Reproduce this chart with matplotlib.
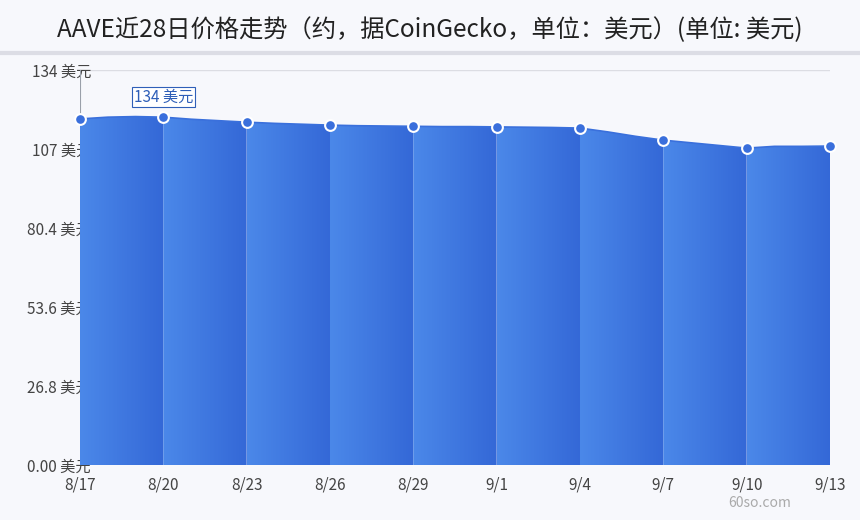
import matplotlib
matplotlib.use("Agg")
import matplotlib.pyplot as plt
import numpy as np
from matplotlib.colors import LinearSegmentedColormap
from matplotlib.patches import Polygon

plt.rcParams['font.family'] = ['Noto Sans CJK SC', 'DejaVu Sans']

tick_labels = ['8/17', '8/20', '8/23', '8/26', '8/29', '9/1', '9/4', '9/7', '9/10', '9/13']
values = [117.4, 118.0, 118.2, 118.0, 117.3, 116.8, 116.3, 115.9, 115.6, 115.3,
          115.1, 115.0, 114.9, 114.8, 114.8, 114.7, 114.6, 114.5, 114.3, 113.0,
          111.5, 110.2, 109.3, 108.4, 107.5, 108.1, 108.1, 108.2]
y_ticks = [0, 26.8, 53.6, 80.4, 107, 134]
y_tick_labels = ['0.00 美元', '26.8 美元', '53.6 美元', '80.4 美元', '107 美元', '134 美元']
max_label = '134 美元'
title = 'AAVE近28日价格走势（约，据CoinGecko，单位：美元）(单位: 美元)'

bg = '#f7f8fc'
fig = plt.figure(figsize=(8.6, 5.2), dpi=100, facecolor=bg)
ax = fig.add_axes([80/860, 1-465/520, 750/860, 395/520])
ax.set_facecolor(bg)
x = np.arange(len(values))
v = np.array(values)
ax.set_xlim(0, len(values)-1)
ax.set_ylim(0, 134)

cmap = LinearSegmentedColormap.from_list('g', ['#4b88e9', '#3468d7'])
grad = np.linspace(0, 1, 100).reshape(1, -1)
for s in range(0, len(values)-1, 3):
    e = s + 3
    xs = x[s:e+1]; ys = v[s:e+1]
    poly = np.vstack([np.column_stack([xs, ys]), [[xs[-1], 0], [xs[0], 0]]])
    p = Polygon(poly, closed=True, facecolor='none', edgecolor='none')
    ax.add_patch(p)
    im = ax.imshow(grad, cmap=cmap, extent=[s, e, 0, 134], aspect='auto', zorder=2)
    im.set_clip_path(p)

ax.plot(x, v, color='#3a70dc', lw=1.2, zorder=3)
ax.scatter(x[::3], v[::3], s=60, marker='o', color='#3a6fdc', edgecolor='white', linewidth=1.5, zorder=5, clip_on=False)

ax.axhline(134, color='#dcdde3', lw=1, zorder=1)
ax.plot([0, 0], [v[0], 134], color='#9aa0aa', lw=0.8, zorder=4)
ax.text(3, 124.8, max_label, ha='center', va='center', fontsize=11, color='#2f5fb8',
        bbox=dict(boxstyle='square,pad=0.12', fc='white', ec='#2f5fb8', lw=0.8), zorder=6)

ax.set_xticks(x[::3])
ax.set_xticklabels(tick_labels)
ax.set_yticks(y_ticks)
ax.set_yticklabels(y_tick_labels)
ax.tick_params(axis='both', length=0, labelsize=11, colors='#444444')
ax.tick_params(axis='x', pad=8)
ax.tick_params(axis='y', pad=-8)
for sp in ax.spines.values():
    sp.set_visible(False)

fig.text(0.5, 1-30/520, title, ha='center', va='center', fontsize=17.5, color='#222222')
fig.add_artist(plt.Line2D([0, 1], [1-53/520, 1-53/520], color='#dcdde5', lw=3))
fig.text(760/860, 1-503/520, '60so.com', ha='center', va='center', fontsize=10, color='#aaaaaa')

fig.savefig('out.png', dpi=100, facecolor=bg)
